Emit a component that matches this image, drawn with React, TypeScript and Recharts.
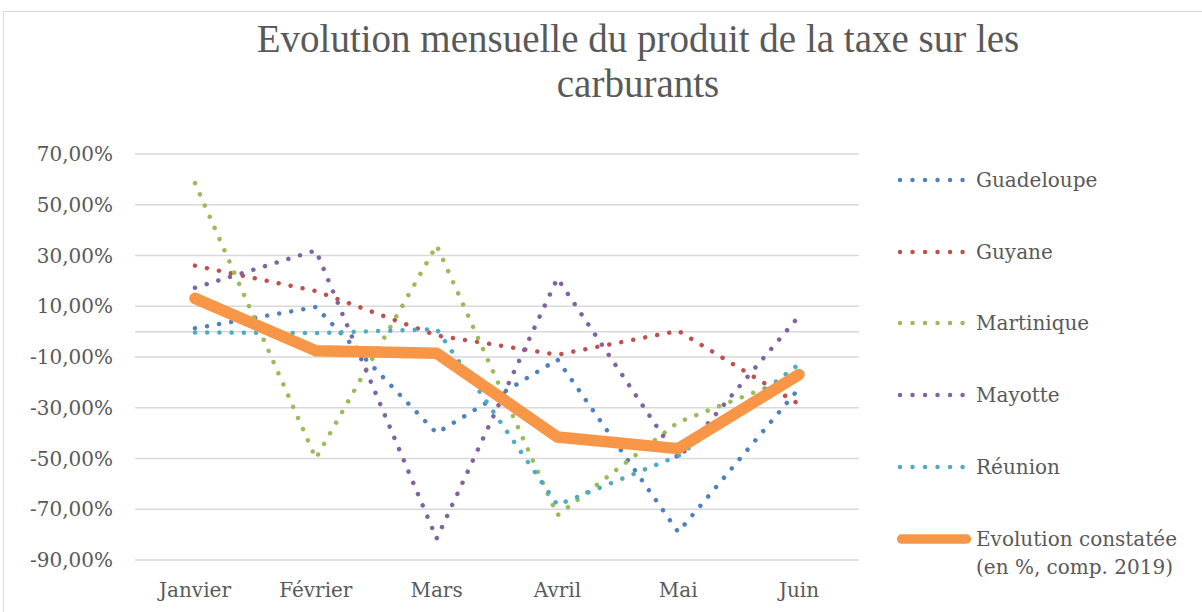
import { LineChart, Line, XAxis, YAxis, CartesianGrid, Legend, ReferenceLine } from 'recharts';

// months and values (% change vs 2019)
const months = ['Janvier', 'Février', 'Mars', 'Avril', 'Mai', 'Juin'];
const guadeloupe = [1.3, 9.7, -40, -11, -79, -22.4];
const guyane = [26, 16, -1.5, -9.1, 0.3, -28.6];
const martinique = [58.5, -50, 34, -72.4, -35.7, -17];
const mayotte = [17.3, 32, -81.6, 21, -50, 6.1];
const reunion = [-0.3, -0.6, 1, -68.3, -49, -12.8];
const evolution = [13.1, -7.5, -8.5, -41.5, -46.1, -16.9];
const yTicks = [70, 50, 30, 10, -10, -30, -50, -70, -90];

const series = [
    { key: 'guadeloupe', name: 'Guadeloupe', values: guadeloupe, color: '#4F81BD', dotted: true },
    { key: 'guyane', name: 'Guyane', values: guyane, color: '#C0504D', dotted: true },
    { key: 'martinique', name: 'Martinique', values: martinique, color: '#9BBB59', dotted: true },
    { key: 'mayotte', name: 'Mayotte', values: mayotte, color: '#8064A2', dotted: true },
    { key: 'reunion', name: 'Réunion', values: reunion, color: '#4BACC6', dotted: true },
    { key: 'evolution', name: 'Evolution constatée\n(en %, comp. 2019)', values: evolution, color: '#F79646', dotted: false }
];

const data = months.map((month, i) => {
    const row: Record<string, string | number> = { month };
    series.forEach(s => { row[s.key] = s.values[i]; });
    return row;
});

const textColor = '#595959';
const labelFont = 'DejaVu Serif';

const renderLegend = () => (
    <div style={{ position: 'relative', width: 310, height: 430, fontFamily: labelFont, fontSize: 20, color: textColor }}>
        {series.map((s, i) => {
            const cy = 20 + i * 71.7;
            const lines = s.name.split('\n');
            return (
                <div key={s.key}>
                    <svg width={85} height={16} style={{ position: 'absolute', left: 0, top: cy - 8 }}>
                        {s.dotted ? (
                            <line x1={10} y1={8} x2={73} y2={8} stroke={s.color} strokeWidth={4.5}
                                strokeDasharray="0.01 12.5" strokeLinecap="round" />
                        ) : (
                            <line x1={11.5} y1={8} x2={76.5} y2={8} stroke={s.color} strokeWidth={9.3} strokeLinecap="round" />
                        )}
                    </svg>
                    <div style={{ position: 'absolute', left: 86, top: cy - 14, lineHeight: '28px', whiteSpace: 'nowrap' }}>
                        {lines.map(l => <div key={l}>{l}</div>)}
                    </div>
                </div>
            );
        })}
    </div>
);

export default function App() {
    return (
        <div style={{ position: 'absolute', left: 0, top: 0, width: 1202, height: 612, background: '#fff', overflow: 'hidden' }}>
            <div style={{ position: 'absolute', left: 3, top: 11, width: 1220, height: 640, border: '1.5px solid #D9D9D9' }} />
            <div style={{
                position: 'absolute', left: 138, top: 16, width: 1000, textAlign: 'center',
                fontFamily: 'Liberation Serif', fontSize: 39, lineHeight: '45px', color: textColor
            }}>
                <div>Evolution mensuelle du produit de la taxe sur les</div>
                <div>carburants</div>
            </div>
            <LineChart width={1202} height={612} data={data} margin={{ top: 154, right: 343, bottom: 12, left: 35 }}>
                <CartesianGrid horizontal vertical={false} stroke="#D9D9D9" strokeWidth={1.5} />
                <XAxis dataKey="month" tickLine={false} axisLine={false} height={40} tickMargin={17}
                    padding={{ left: 60, right: 60 }} interval={0}
                    tick={{ fontSize: 20, fill: textColor, fontFamily: labelFont }} />
                <YAxis domain={[-90, 70]} ticks={yTicks} interval={0} width={100} tickLine={false} axisLine={false}
                    tickMargin={16} tickFormatter={(v: number) => `${v},00%`}
                    tick={{ fontSize: 20, fill: textColor, fontFamily: labelFont }} />
                <ReferenceLine y={0} stroke="#D9D9D9" strokeWidth={1.5} />
                {series.map(s => (
                    <Line key={s.key} type="linear" dataKey={s.key} name={s.name} stroke={s.color}
                        strokeWidth={s.dotted ? 4.5 : 11.5}
                        strokeDasharray={s.dotted ? '0.01 12.2' : undefined}
                        strokeLinecap="round" strokeLinejoin="round"
                        dot={false} activeDot={false} isAnimationActive={false} />
                ))}
                <Legend layout="vertical" align="center" verticalAlign="middle" content={renderLegend}
                    wrapperStyle={{ left: 890, top: 160, width: 310, height: 430 }} />
            </LineChart>
        </div>
    );
}
